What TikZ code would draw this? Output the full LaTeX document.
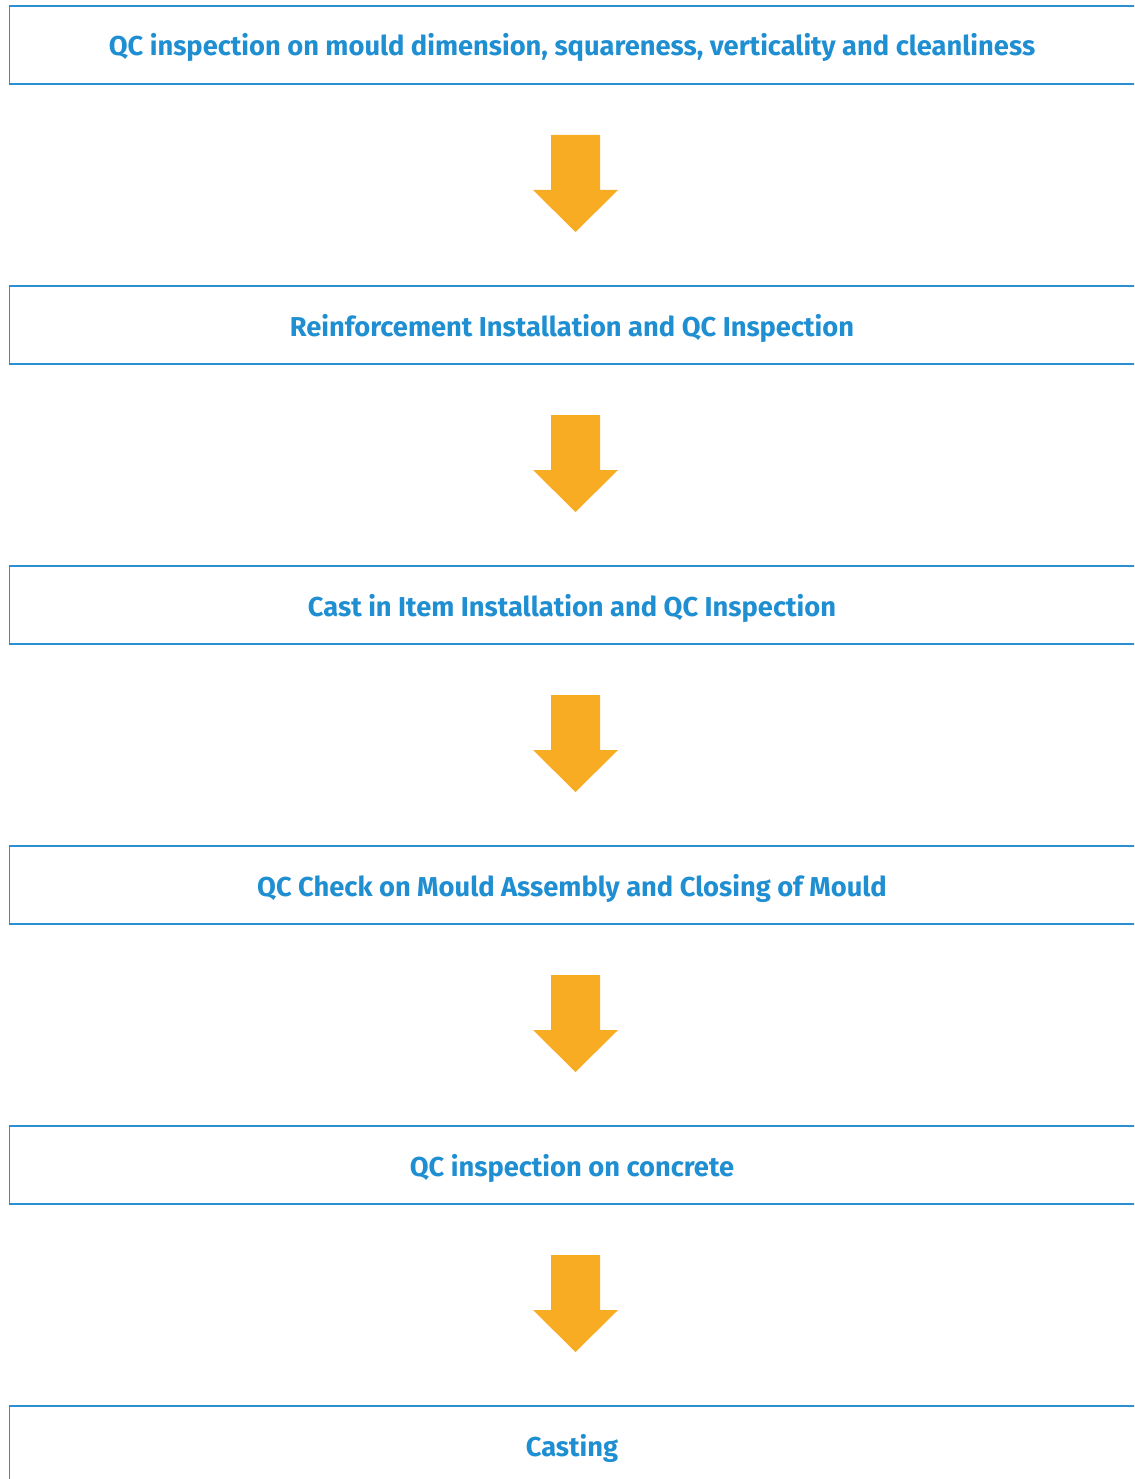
\documentclass[tikz,border=0pt]{standalone}
\usepackage{fontspec}
\setmainfont{Fira Sans}
\definecolor{qcblue}{HTML}{1F8FD2}
\definecolor{qcline}{HTML}{2A8ED4}
\definecolor{qcorange}{HTML}{F7AC24}
\begin{document}
\begin{tikzpicture}[x=1pt,y=-1pt,
  stepbox/.style={draw=qcline, line width=1.6pt, minimum width=1140pt, minimum height=78pt, anchor=north west, inner sep=0pt},
  steptext/.style={text=qcblue, anchor=base, font=\fontsize{27.3}{32}\selectfont\bfseries},
  flowarrow/.style={fill=qcorange, draw=none}]
\useasboundingbox (0,0) rectangle (1134,1479);
\clip (0,0) rectangle (1134,1479);
\foreach \i/\t in {0/{QC inspection on mould dimension, squareness, verticality and cleanliness},
                   1/{Reinforcement Installation and QC Inspection},
                   2/{Cast in Item Installation and QC Inspection},
                   3/{QC Check on Mould Assembly and Closing of Mould},
                   4/{QC inspection on concrete},
                   5/{Casting}}{
  \node[stepbox] (b\i) at (8.5, 5+280*\i) {};
  \node[steptext] (t\i) at (572, 56+280*\i) {\t};
}
\foreach \i in {0,...,4}{
  \fill[flowarrow] (551,135+280*\i) -- (600,135+280*\i) -- (600,190+280*\i) -- (618,190+280*\i)
     -- (575.5,232+280*\i) -- (533,190+280*\i) -- (551,190+280*\i) -- cycle;
}
\end{tikzpicture}
\end{document}
